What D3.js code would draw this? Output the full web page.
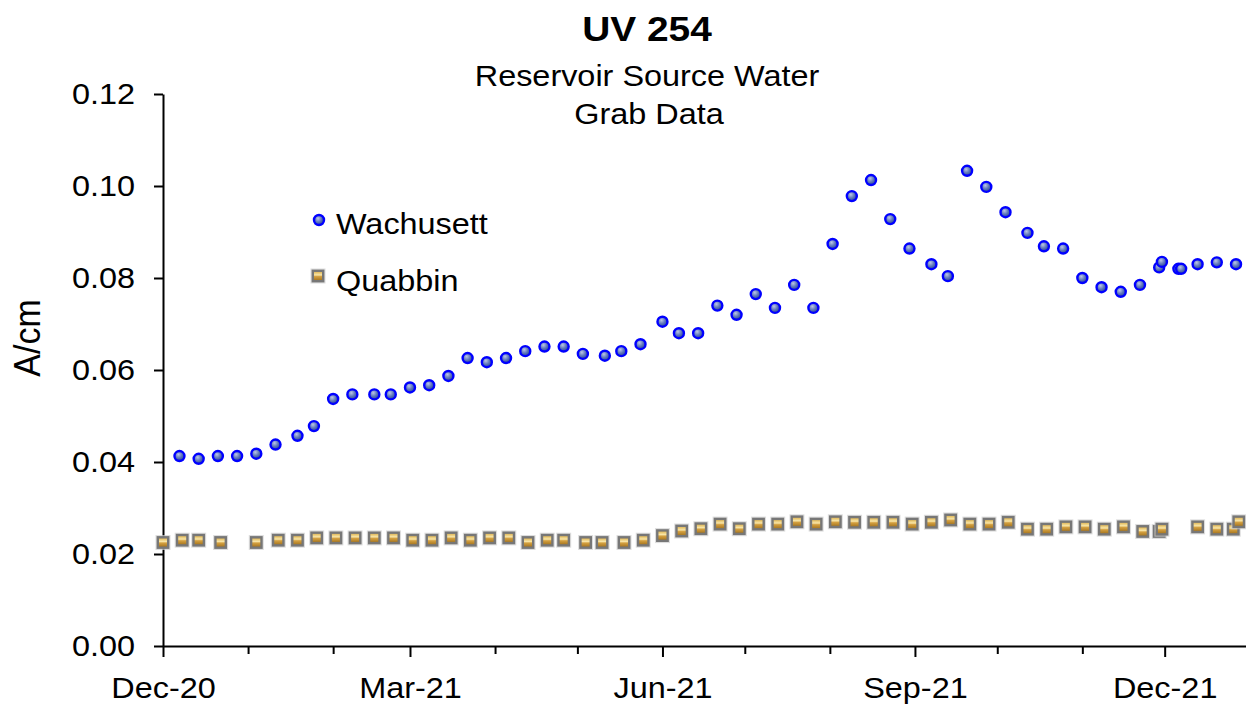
<!DOCTYPE html>
<html>
<head>
<meta charset="utf-8">
<script src="https://cdnjs.cloudflare.com/ajax/libs/d3/7.8.5/d3.min.js"></script>
<style>
body { margin: 0; background: #fff; }
text { font-family: "Liberation Sans", Arial, sans-serif; fill: #000; }
</style>
</head>
<body>
<svg class="uv"></svg>
<script>
// Wachusett grab samples
var wachDates = ["2020-12-07","2020-12-14","2020-12-21","2020-12-28",
    "2021-01-04","2021-01-11","2021-01-19","2021-01-25",
    "2021-02-01","2021-02-08","2021-02-16","2021-02-22",
    "2021-03-01","2021-03-08","2021-03-15","2021-03-22","2021-03-29",
    "2021-04-05","2021-04-12","2021-04-19","2021-04-26",
    "2021-05-03","2021-05-11","2021-05-17","2021-05-24",
    "2021-06-01","2021-06-07","2021-06-14","2021-06-21","2021-06-28",
    "2021-07-05","2021-07-12","2021-07-19","2021-07-26",
    "2021-08-02","2021-08-09","2021-08-16","2021-08-23","2021-08-30",
    "2021-09-07","2021-09-13","2021-09-20","2021-09-27",
    "2021-10-04","2021-10-12","2021-10-18","2021-10-25",
    "2021-11-01","2021-11-08","2021-11-15","2021-11-22","2021-11-29","2021-11-30",
    "2021-12-06","2021-12-07","2021-12-13","2021-12-20","2021-12-27"];
var wachValues = [0.0413, 0.0407, 0.0413, 0.0413,
    0.0418, 0.0438, 0.0457, 0.0478,
    0.0537, 0.0547, 0.0547, 0.0547,
    0.0562, 0.0567, 0.0587, 0.0626, 0.0617,
    0.0626, 0.0641, 0.0651, 0.0651,
    0.0635, 0.0631, 0.0641, 0.0656,
    0.0705, 0.0680, 0.0680, 0.0740, 0.0720,
    0.0765, 0.0735, 0.0785, 0.0735,
    0.0874, 0.0978, 0.1013, 0.0928, 0.0864,
    0.0830, 0.0804, 0.1033, 0.0998,
    0.0943, 0.0898, 0.0869, 0.0864,
    0.0800, 0.0780, 0.0770, 0.0785, 0.0823, 0.0835,
    0.0820, 0.0820, 0.0830, 0.0834, 0.0830];

// Quabbin grab samples
var quabDates = ["2020-12-01","2020-12-08","2020-12-14","2020-12-22",
    "2021-01-04","2021-01-12","2021-01-19","2021-01-26",
    "2021-02-02","2021-02-09","2021-02-16","2021-02-23",
    "2021-03-02","2021-03-09","2021-03-16","2021-03-23","2021-03-30",
    "2021-04-06","2021-04-13","2021-04-20","2021-04-26",
    "2021-05-04","2021-05-10","2021-05-18","2021-05-25",
    "2021-06-01","2021-06-08","2021-06-15","2021-06-22","2021-06-29",
    "2021-07-06","2021-07-13","2021-07-20","2021-07-27",
    "2021-08-03","2021-08-10","2021-08-17","2021-08-24","2021-08-31",
    "2021-09-07","2021-09-14","2021-09-21","2021-09-28",
    "2021-10-05","2021-10-12","2021-10-19","2021-10-26",
    "2021-11-02","2021-11-09","2021-11-16","2021-11-23","2021-11-29","2021-11-30",
    "2021-12-13","2021-12-20","2021-12-26","2021-12-28"];
var quabValues = [0.0225, 0.0230, 0.0230, 0.0225,
    0.0225, 0.0230, 0.0230, 0.0235,
    0.0235, 0.0235, 0.0235, 0.0235,
    0.0230, 0.0230, 0.0235, 0.0230, 0.0235,
    0.0235, 0.0225, 0.0230, 0.0230,
    0.0225, 0.0225, 0.0225, 0.0230,
    0.0240, 0.0250, 0.0255, 0.0265, 0.0255,
    0.0265, 0.0265, 0.0270, 0.0265,
    0.0270, 0.0269, 0.0269, 0.0269, 0.0265,
    0.0269, 0.0274, 0.0265, 0.0265,
    0.0269, 0.0254, 0.0254, 0.0259,
    0.0259, 0.0254, 0.0259, 0.0249, 0.0249, 0.0254,
    0.0259, 0.0254, 0.0254, 0.0270];

var yTicks = [0, 0.02, 0.04, 0.06, 0.08, 0.10, 0.12];
var xStart = "2020-12-01", xEnd = "2021-12-31";
var seriesNames = ["Wachusett", "Quabbin"];

var w = 1246,
    h = 710;
var sx = 1.08; // horizontal stretch of text

var svg = d3.select(".uv")
    .attr("width", w)
    .attr("height", h);

var margin = { top: 94, left: 163, bottom: 64, right: 0 },
    width = 1084,
    height = h - margin.top - margin.bottom,
    g = svg.append("g").attr("transform", "translate(" + margin.left + "," + margin.top + ")");

var parseDate = d3.timeParse("%Y-%m-%d");
var fmt = d3.timeFormat("%b-%y");

var wach = wachDates.map(function(d, i) { return { date: parseDate(d), value: wachValues[i] }; });
var quab = quabDates.map(function(d, i) { return { date: parseDate(d), value: quabValues[i] }; });

var xScale = d3.scaleTime()
    .domain([parseDate(xStart), parseDate(xEnd)])
    .range([0, width]);

var yScale = d3.scaleLinear()
    .domain([0, 0.12])
    .range([height, 0]);

// gradients for the markers
var defs = svg.append("defs");
var rg = defs.append("radialGradient").attr("id", "wachFill")
    .attr("cx", "40%").attr("cy", "35%").attr("r", "70%");
rg.append("stop").attr("offset", "0%").attr("stop-color", "#bcc6e6");
rg.append("stop").attr("offset", "50%").attr("stop-color", "#5f78bc");
rg.append("stop").attr("offset", "100%").attr("stop-color", "#253f90");

var lg = defs.append("linearGradient").attr("id", "quabFill")
    .attr("x1", 0).attr("y1", 0).attr("x2", 0).attr("y2", 1);
lg.append("stop").attr("offset", "0%").attr("stop-color", "#d9a83c");
lg.append("stop").attr("offset", "40%").attr("stop-color", "#f8e6a8");
lg.append("stop").attr("offset", "55%").attr("stop-color", "#d4a040");
lg.append("stop").attr("offset", "100%").attr("stop-color", "#9c6c18");

function stretch(sel) {
    sel.each(function() {
        var t = d3.select(this);
        var x = +t.attr("x") || 0;
        t.attr("x", x / sx).attr("transform", "scale(" + sx + ",1)");
    });
}

// Axes
var xAxis = d3.axisBottom(xScale)
    .ticks(d3.timeMonth.every(1))
    .tickSize(8)
    .tickSizeOuter(0)
    .tickPadding(23)
    .tickFormat(function(d) { return d.getMonth() % 3 == 2 ? fmt(d) : ""; });

var gx = g.append("g")
    .attr("class", "x axis")
    .attr("transform", "translate(0," + height + ")")
    .call(xAxis);

gx.selectAll(".tick line")
    .attr("y2", function(d) { return d.getMonth() % 3 == 2 ? 11 : 8; });

var yAxis = d3.axisLeft(yScale)
    .tickValues(yTicks)
    .tickSize(9)
    .tickSizeOuter(0)
    .tickPadding(19)
    .tickFormat(d3.format(".2f"));

var gy = g.append("g")
    .attr("class", "y axis")
    .call(yAxis);

svg.selectAll(".axis .domain, .axis line")
    .attr("stroke", "#000")
    .attr("stroke-width", 2);
svg.selectAll(".axis text")
    .attr("font-size", "30px")
    .attr("font-family", "Liberation Sans, Arial, sans-serif")
    .call(stretch);

// Quabbin squares
function square(sel) {
    sel.append("rect")
        .attr("x", -7.5).attr("y", -7.5)
        .attr("width", 15).attr("height", 15)
        .attr("fill", "#cfcfcf")
        .attr("opacity", 0.7);
    sel.append("rect")
        .attr("x", -5.2).attr("y", -5.2)
        .attr("width", 10.4).attr("height", 10.4)
        .attr("fill", "url(#quabFill)")
        .attr("stroke", "#777")
        .attr("stroke-width", 2.4);
}

function circle(sel) {
    sel.append("circle")
        .attr("r", 5)
        .attr("fill", "url(#wachFill)")
        .attr("stroke", "#0000ff")
        .attr("stroke-width", 2.4);
}

g.append("g").attr("class", "quabbin")
    .selectAll("g")
    .data(quab)
    .enter().append("g")
    .attr("transform", function(d) { return "translate(" + xScale(d.date) + "," + yScale(d.value) + ")"; })
    .call(square);

g.append("g").attr("class", "wachusett")
    .selectAll("g")
    .data(wach)
    .enter().append("g")
    .attr("transform", function(d) { return "translate(" + xScale(d.date) + "," + yScale(d.value) + ")"; })
    .call(circle);

// Legend
var legend = svg.append("g").attr("class", "legend");
var l1 = legend.append("g").attr("transform", "translate(319,220)");
l1.call(circle);
var l2 = legend.append("g").attr("transform", "translate(318,276)");
l2.call(square);

legend.selectAll("text.lab")
    .data(seriesNames)
    .enter().append("text")
    .attr("class", "lab")
    .attr("x", 336)
    .attr("y", function(d, i) { return 234 + i * 57; })
    .attr("font-size", "30px")
    .text(function(d) { return d; })
    .call(stretch);

// Titles
var titles = svg.append("g").attr("class", "titles");
titles.append("text")
    .attr("x", 647)
    .attr("y", 41)
    .attr("text-anchor", "middle")
    .attr("font-size", "36px")
    .attr("font-weight", "bold")
    .text("UV 254")
    .call(stretch);
titles.append("text")
    .attr("x", 647)
    .attr("y", 86)
    .attr("text-anchor", "middle")
    .attr("font-size", "30px")
    .text("Reservoir Source Water")
    .call(stretch);
titles.append("text")
    .attr("x", 649)
    .attr("y", 124)
    .attr("text-anchor", "middle")
    .attr("font-size", "30px")
    .text("Grab Data")
    .call(stretch);

svg.append("text")
    .attr("transform", "translate(40,338) scale(" + sx + ",1) rotate(-90)")
    .attr("text-anchor", "middle")
    .attr("font-size", "34px")
    .text("A/cm");
</script>
</body>
</html>
